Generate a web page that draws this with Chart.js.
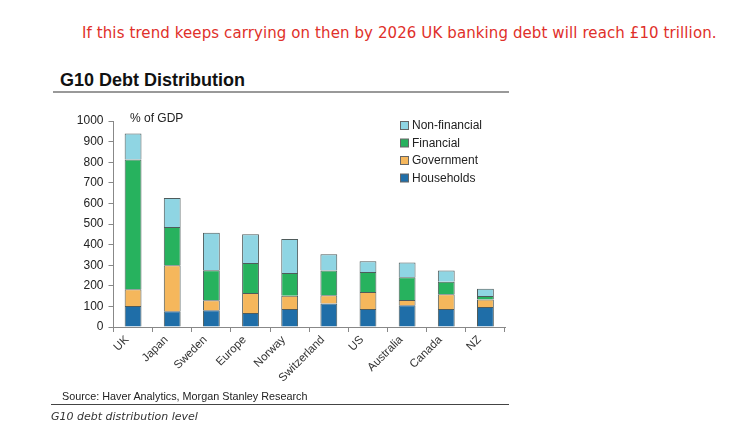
<!DOCTYPE html>
<html>
<head>
<meta charset="utf-8">
<script src="https://cdn.jsdelivr.net/npm/chart.js@4"></script>
<style>
  body { margin: 0; background: #fff; width: 752px; height: 439px; position: relative; overflow: hidden; }
  .abs { position: absolute; white-space: nowrap; }
  #note { left: 82px; top: 24px; font: 15px "DejaVu Sans", Verdana, sans-serif; letter-spacing: 0.1px; color: #e0302a; }
  #title { left: 60px; top: 70px; font: bold 18px "Liberation Sans", Arial, sans-serif; color: #111; }
  #titleRule { left: 53px; top: 91px; width: 456px; height: 2px; background: #999; }
  #source { left: 62px; top: 390px; font: 10.8px "Liberation Sans", Arial, sans-serif; color: #222; }
  #sourceRule { left: 51px; top: 404px; width: 458px; height: 1px; background: #444; }
  #caption { left: 51px; top: 410px; font: italic 11px "DejaVu Sans", Verdana, sans-serif; color: #333; }
  #wrap { position: absolute; left: 40px; top: 100px; width: 480px; height: 300px; }
</style>
</head>
<body>
<div class="abs" id="note">If this trend keeps carrying on then by 2026 UK banking debt will reach £10 trillion.</div>
<div class="abs" id="title">G10 Debt Distribution</div>
<div class="abs" id="titleRule"></div>
<div id="wrap"><canvas id="chart" width="480" height="300"></canvas></div>
<div class="abs" id="source">Source: Haver Analytics, Morgan Stanley Research</div>
<div class="abs" id="sourceRule"></div>
<div class="abs" id="caption">G10 debt distribution level</div>

<script>
// Chart values (% of GDP)
const countries = ["UK", "Japan", "Sweden", "Europe", "Norway", "Switzerland", "US", "Australia", "Canada", "NZ"];
const households = [102, 76, 81, 68, 87, 114, 87, 105, 87, 97];
const government = [81, 224, 49, 97, 65, 40, 83, 26, 72, 36];
const financial = [630, 185, 145, 146, 110, 120, 97, 110, 61, 17];
const nonFinancial = [126, 141, 183, 139, 165, 79, 52, 72, 54, 36];
const yTicks = [0, 100, 200, 300, 400, 500, 600, 700, 800, 900, 1000];

const FONT = '"Liberation Sans", Arial, sans-serif';
const EDGE = '#4f5b5b';

// Legend in the top right of the plot plus the "% of GDP" label
const insideLegend = {
    id: 'insideLegend',
    afterDraw(chart) {
        const ctx = chart.ctx;
        ctx.save();
        ctx.font = `12px ${FONT}`;
        ctx.textBaseline = 'middle';
        ctx.fillStyle = '#222';
        ctx.fillText('% of GDP', 90, 18.5);

        const sets = chart.data.datasets.slice().reverse();
        sets.forEach((ds, i) => {
            const y = 25.5 + i * 17.5;
            ctx.fillStyle = ds.backgroundColor;
            ctx.fillRect(360.5, y - 4, 8, 8);
            ctx.strokeStyle = '#666';
            ctx.lineWidth = 1;
            ctx.strokeRect(360.5, y - 4, 8, 8);
            ctx.fillStyle = '#222';
            ctx.fillText(ds.label, 372, y + 0.5);
        });
        ctx.restore();
    }
};

const makeSet = (label, data, color) => ({
    label: label,
    data: data,
    backgroundColor: color,
    borderColor: EDGE,
    borderWidth: 1,
    barPercentage: 0.43,
    categoryPercentage: 1.0
});

const setup = () => {
    const ctx = document.getElementById('chart').getContext('2d');
    new Chart(ctx, {
        type: 'bar',
        data: {
            labels: countries,
            datasets: [
                makeSet('Households', households, '#1f6ea8'),
                makeSet('Government', government, '#f5b75c'),
                makeSet('Financial', financial, '#27b25e'),
                makeSet('Non-financial', nonFinancial, '#8fd5e3')
            ]
        },
        options: {
            responsive: false,
            animation: false,
            layout: { padding: { top: 21, right: 15, left: 0, bottom: 0 } },
            plugins: {
                legend: { display: false },
                tooltip: { enabled: false }
            },
            scales: {
                x: {
                    stacked: true,
                    afterFit: (s) => { s.height = 73; },
                    grid: { drawOnChartArea: false, tickLength: 5, color: '#888', offset: true },
                    border: { color: '#888' },
                    ticks: {
                        maxRotation: 45,
                        minRotation: 45,
                        labelOffset: -6,
                        padding: 1,
                        color: '#333',
                        font: { family: FONT, size: 11.5 }
                    }
                },
                y: {
                    stacked: true,
                    min: 0,
                    max: 1000,
                    afterFit: (s) => { s.width = 73.5; },
                    afterBuildTicks: (s) => { s.ticks = yTicks.map(v => ({ value: v })); },
                    grid: { drawOnChartArea: false, tickLength: 5, color: '#888' },
                    border: { color: '#888' },
                    ticks: {
                        padding: 5,
                        color: '#222',
                        font: { family: FONT, size: 12 },
                        callback: (v) => String(v)
                    }
                }
            }
        },
        plugins: [insideLegend]
    });
};

document.addEventListener('DOMContentLoaded', setup);
</script>
</body>
</html>
